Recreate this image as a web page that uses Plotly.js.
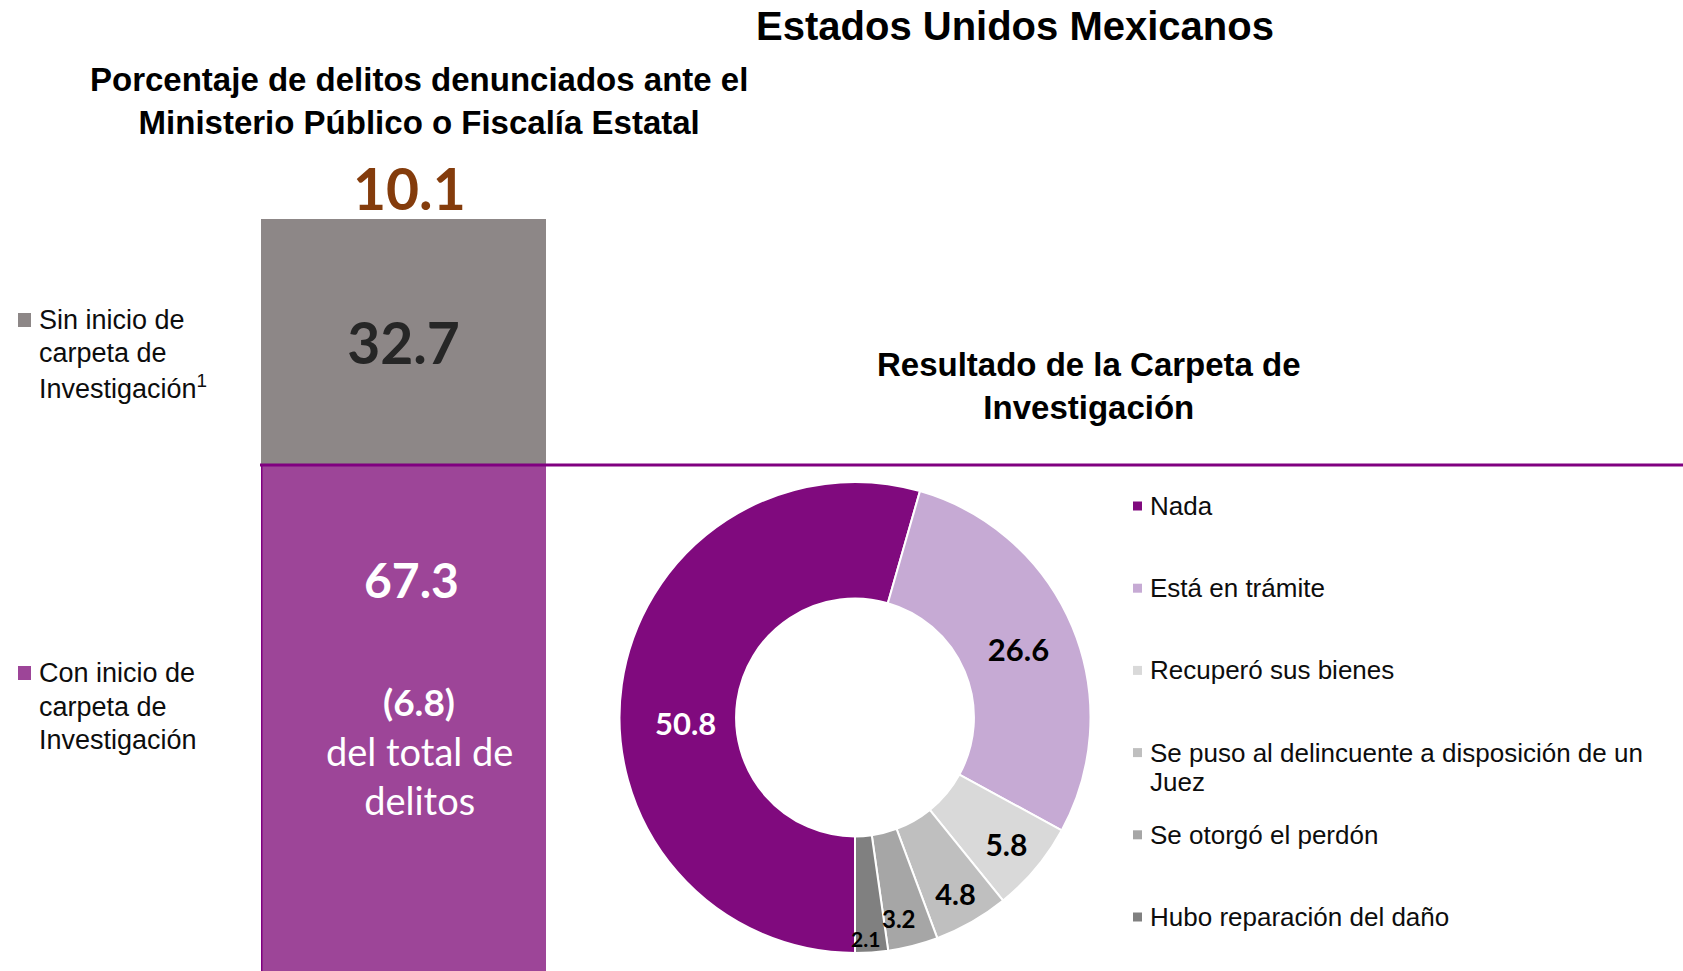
<!DOCTYPE html>
<html>
<head>
<meta charset="utf-8">
<script src="https://cdn.plot.ly/plotly-3.0.1.min.js"></script>
<style>html,body{margin:0;padding:0;background:#fff;}#chart{width:1683px;height:971px;}</style>
</head>
<body>
<div id="chart"></div>
<script>
// ---- Data ----
const barCategories = ['Con inicio de carpeta de Investigación', 'Sin inicio de carpeta de Investigación'];
const barLegendLabels = ['Con inicio de<br>carpeta de<br>Investigación', 'Sin inicio de<br>carpeta de<br>Investigación<sup>1</sup>'];
const barValues = [67.3, 32.7];
const reportedTotal = 10.1;
const withCarpetaShareOfTotal = 6.8;
const resultLabels = ['Nada', 'Está en trámite', 'Recuperó sus bienes', 'Se puso al delincuente a disposición de un<br>Juez', 'Se otorgó el perdón', 'Hubo reparación del daño'];
const resultValues = [50.8, 26.6, 5.8, 4.8, 3.2, 2.1];

// ---- Styles ----
const W = 1683, H = 971;
const barWidth = 1;
const barColors = ['#9D4598', '#8D8787'];
const pieColors = ['#800A7E', '#C6AAD4', '#D9D9D9', '#BFBFBF', '#A6A6A6', '#808080'];
const pieLabelSizes = [31, 31, 30, 29, 24, 21];
const pieLabelColors = ['#ffffff', '#000000', '#000000', '#000000', '#000000', '#000000'];
// slices whose labels Excel placed away from the ring centre: drawn as free labels instead
const pieTextPos = ['none', 'inside', 'inside', 'inside', 'none', 'none'];
const pieFreeLabelPos = {0: [685, 723], 4: [899, 918], 5: [865, 938]};
const px = v => v / W;
const py = v => 1 - v / H;
const txtFont = 'Liberation Sans, Arial, sans-serif';
const numFont = 'Lato, Open Sans, sans-serif';

const traces = [
  {
    type: 'bar', name: barCategories[0], x: [0], y: [barValues[0]], width: barWidth,
    marker: {color: barColors[0], line: {width: 0}},
    hoverinfo: 'name+y', showlegend: false
  },
  {
    type: 'bar', name: barCategories[1], x: [0], y: [barValues[1]], width: barWidth,
    marker: {color: barColors[1], line: {width: 0}},
    text: [barValues[1].toFixed(1)], textposition: 'inside', insidetextanchor: 'middle', textangle: 0,
    textfont: {family: numFont, size: 57, color: '#262626', weight: 'bold'},
    hoverinfo: 'name+y', showlegend: false
  },
  {
    type: 'pie', labels: resultLabels, values: resultValues,
    hole: 0.505, sort: false, direction: 'clockwise', rotation: 180,
    domain: {x: [px(619), px(1091)], y: [py(953), py(482)]},
    marker: {colors: pieColors, line: {color: '#ffffff', width: 2}},
    text: resultValues.map(v => v.toFixed(1)), textinfo: 'text',
    textposition: pieTextPos, insidetextorientation: 'horizontal',
    insidetextfont: {family: numFont, size: pieLabelSizes, color: pieLabelColors, weight: 'bold'},
    hoverinfo: 'label+value', showlegend: false
  }
];

const annotations = [
  {text: 'Porcentaje de delitos denunciados ante el<br>Ministerio Público o Fiscalía Estatal',
   x: px(419), y: py(101), font: {family: txtFont, size: 33, color: '#000', weight: 'bold'}},
  {text: reportedTotal.toFixed(1), x: px(409), y: py(188),
   font: {family: numFont, size: 57, color: '#843C0C', weight: 'bold'}},
  {text: barValues[0].toFixed(1), x: px(411), y: py(579),
   font: {family: numFont, size: 48, color: '#ffffff', weight: 'bold'}},
  {text: '(' + withCarpetaShareOfTotal.toFixed(1) + ')', x: px(419), y: py(701),
   font: {family: numFont, size: 37, color: '#ffffff', weight: 'bold'}},
  {text: 'del total de<br>delitos', x: px(419), y: py(775),
   font: {family: numFont, size: 38, color: '#ffffff'}},
  {text: 'Resultado de la Carpeta de<br>Investigación', x: px(1089), y: py(386),
   font: {family: txtFont, size: 33, color: '#000', weight: 'bold'}}
].map(a => Object.assign({xref: 'paper', yref: 'paper', xanchor: 'center', yanchor: 'middle', showarrow: false}, a));

// free pie labels
Object.keys(pieFreeLabelPos).forEach(k => {
  const i = +k, p = pieFreeLabelPos[k];
  annotations.push({text: resultValues[i].toFixed(1), xref: 'paper', yref: 'paper',
    x: px(p[0]), y: py(p[1]), xanchor: 'center', yanchor: 'middle', showarrow: false,
    font: {family: numFont, size: pieLabelSizes[i], color: pieLabelColors[i], weight: 'bold'}});
});

const shapes = [
  // dark purple edge on the left of the "Con inicio" segment
  {type: 'line', xref: 'x', yref: 'y', x0: -barWidth / 2, x1: -barWidth / 2, y0: 0, y1: barValues[0],
   line: {color: '#800080', width: 3}, layer: 'above'},
  // separator line running from the bar to the pie panel
  {type: 'line', xref: 'paper', yref: 'y', x0: px(260), x1: 1, y0: barValues[0], y1: barValues[0],
   line: {color: '#800080', width: 3}, layer: 'above'}
];

// Left legend (bar series): Sin inicio on top, Con inicio below
const leftLegendY = [673, 320]; // first-line centres for [Con, Sin]
barLegendLabels.forEach((lab, i) => {
  const lines = lab.split('<br>');
  lines.forEach((ln, j) => {
    annotations.push({text: ln, xref: 'paper', yref: 'paper', x: px(37), y: py(leftLegendY[i] + j * 33.5),
      xanchor: 'left', yanchor: 'middle', showarrow: false,
      font: {family: txtFont, size: 27, color: '#0d0d0d'}});
  });
  shapes.push({type: 'rect', xref: 'paper', yref: 'paper', x0: px(18), x1: px(31),
    y0: py(leftLegendY[i] - 7), y1: py(leftLegendY[i] + 7), fillcolor: barColors[i], line: {width: 0}});
});

// Right legend (pie slices)
resultLabels.forEach((lab, i) => {
  const yc = 506 + i * 82.2;
  lab.split('<br>').forEach((ln, j) => {
    annotations.push({text: ln, xref: 'paper', yref: 'paper', x: px(1148), y: py(yc + j * 29),
      xanchor: 'left', yanchor: 'middle', showarrow: false,
      font: {family: txtFont, size: 26, color: '#0d0d0d'}});
  });
  shapes.push({type: 'rect', xref: 'paper', yref: 'paper', x0: px(1133), x1: px(1142),
    y0: py(yc - 4.5), y1: py(yc + 4.5), fillcolor: pieColors[i], line: {width: 0}});
});

const layout = {
  width: W, height: H,
  margin: {l: 0, r: 0, t: 0, b: 0, pad: 0},
  paper_bgcolor: '#ffffff', plot_bgcolor: 'rgba(0,0,0,0)',
  title: {text: 'Estados Unidos Mexicanos', x: px(1015), xanchor: 'center', xref: 'paper',
          y: py(26), yanchor: 'middle', yref: 'paper',
          font: {family: txtFont, size: 40, color: '#000', weight: 'bold'}},
  barmode: 'stack',
  xaxis: {domain: [px(261), px(546)], range: [-0.5, 0.5], visible: false, fixedrange: true},
  yaxis: {domain: [0, py(219)], range: [0, 100], visible: false, fixedrange: true},
  showlegend: false,
  annotations: annotations,
  shapes: shapes
};

Plotly.newPlot('chart', traces, layout, {displayModeBar: false, staticPlot: true});
</script>
</body>
</html>
